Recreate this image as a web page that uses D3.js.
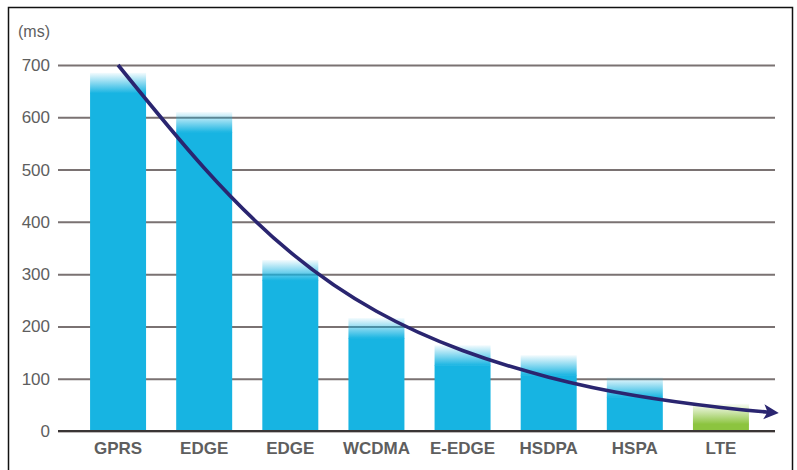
<!DOCTYPE html>
<html><head><meta charset="utf-8">
<script src="https://cdn.jsdelivr.net/npm/d3@7/dist/d3.min.js"></script>
<style>html,body{margin:0;padding:0;background:#fff;}svg{display:block;}</style>
</head><body><svg id="c" width="797" height="470"></svg>
<script>
const categories = ["GPRS","EDGE","EDGE","WCDMA","E-EDGE","HSDPA","HSPA","LTE"];
const latency = [685, 610, 327, 216, 164, 145, 103, 52];
const barColors = ["#17b4e2","#17b4e2","#17b4e2","#17b4e2","#17b4e2","#17b4e2","#17b4e2","#8cc43f"];
const trendIndex = [0, 1, 2, 3, 4, 5, 6, 7, 7.55];
const trendValue = [700, 503, 342, 229, 154, 103, 68, 45, 36];
const yTicks = [0, 100, 200, 300, 400, 500, 600, 700];
const unitLabel = "(ms)";

const svg = d3.select("#c");
const top0 = 65, bottom0 = 431, left0 = 58, right0 = 775;
const FONT = "Liberation Sans, Arial, Helvetica, sans-serif";

svg.append("rect").attr("x",8.5).attr("y",7.5).attr("width",784).attr("height",470)
  .attr("fill","#fff").attr("stroke","#111").attr("stroke-width",1.5);

const y = d3.scaleLinear().domain([0,700]).range([bottom0, top0]);
const x = d3.scaleBand().domain(d3.range(categories.length)).range([75, 764])
  .paddingInner(0.35).paddingOuter(0.175);
const xi = d3.scaleLinear().domain([0, categories.length-1])
  .range([x(0)+x.bandwidth()/2, x(categories.length-1)+x.bandwidth()/2]);

const defs = svg.append("defs");
const uniq = Array.from(new Set(barColors));
uniq.forEach((c,i)=>{
  const g = defs.append("linearGradient").attr("id","fade"+i).attr("x1",0).attr("x2",0).attr("y1",0).attr("y2",1);
  g.append("stop").attr("offset","0%").attr("stop-color",c).attr("stop-opacity",0.05);
  g.append("stop").attr("offset","100%").attr("stop-color",c).attr("stop-opacity",1);
});
defs.append("marker").attr("id","arrow").attr("viewBox","0 0 10 10").attr("refX",3).attr("refY",5)
  .attr("markerWidth",15).attr("markerHeight",17).attr("orient","auto").attr("markerUnits","userSpaceOnUse")
  .append("path").attr("d","M0,0 L10,5 L0,10 L2.5,5 Z").attr("fill","#2a2570");

// grid lines
const yAxis = d3.axisLeft(y).tickValues(yTicks).tickSize(-(right0-left0)).tickPadding(8);
const ga = svg.append("g").attr("transform",`translate(${left0},0)`).call(yAxis);
ga.select(".domain").remove();
ga.selectAll(".tick line").attr("stroke","#7a7272").attr("stroke-width",2);
ga.selectAll(".tick text").attr("fill","#5e5e5e").style("font-family",FONT)
  .style("font-size","17px").attr("x",-8);

// bars
const fadeH = 20;
const bars = svg.append("g");
categories.forEach((c,i)=>{
  const v = latency[i];
  const gi = uniq.indexOf(barColors[i]);
  bars.append("rect").attr("x",x(i)).attr("width",x.bandwidth())
    .attr("y",y(v)+fadeH).attr("height",y(0)-y(v)-fadeH).attr("fill",barColors[i]);
  bars.append("rect").attr("x",x(i)).attr("width",x.bandwidth())
    .attr("y",y(v)).attr("height",fadeH+0.5).attr("fill",`url(#fade${gi})`);
});

// zero line
svg.append("line").attr("x1",left0).attr("x2",right0).attr("y1",y(0)).attr("y2",y(0))
  .attr("stroke","#3a3535").attr("stroke-width",2);

// x labels
const xAxis = d3.axisBottom(x).tickSize(0).tickPadding(11).tickFormat(i=>categories[i]);
const gx = svg.append("g").attr("transform",`translate(0,${y(0)})`).call(xAxis);
gx.select(".domain").remove();
gx.selectAll(".tick text").attr("fill","#5e5e5e").style("font-family",FONT)
  .style("font-size","17px").style("font-weight","bold");

// trend curve
const pts = trendIndex.map((t,i)=>[xi(t), y(trendValue[i])]);
svg.append("path").attr("d", d3.line().curve(d3.curveNatural)(pts))
  .attr("fill","none").attr("stroke","#2a2570").attr("stroke-width",3.6)
  .attr("marker-end","url(#arrow)");

svg.append("text").attr("x",18).attr("y",37).text(unitLabel).attr("fill","#5e5e5e")
  .style("font-family",FONT).style("font-size","16px");
</script></body></html>
